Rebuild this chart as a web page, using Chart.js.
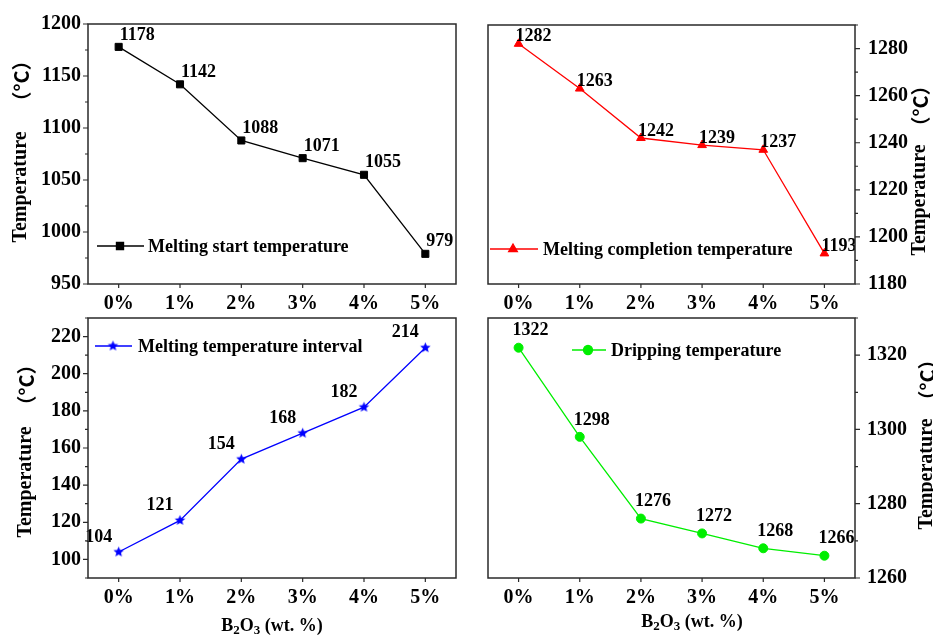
<!DOCTYPE html>
<html>
<head>
<meta charset="utf-8">
<script src="https://cdn.jsdelivr.net/npm/chart.js@4.4.1/dist/chart.umd.min.js"></script>
<style>
  html, body { margin: 0; padding: 0; background: #fff; }
  #wrap { position: relative; width: 933px; height: 637px; background: #fff; overflow: hidden; }
  #wrap canvas { position: absolute; left: 0; top: 0; width: 933px; height: 637px; }
</style>
</head>
<body>
<div id="wrap">
  <canvas id="c1" width="933" height="637"></canvas>
  <canvas id="c2" width="933" height="637"></canvas>
  <canvas id="c3" width="933" height="637"></canvas>
  <canvas id="c4" width="933" height="637"></canvas>
</div>
<script>
// B2O3 additions (wt. %)
const categories = ['0%', '1%', '2%', '3%', '4%', '5%'];

// temperatures in °C
const meltStart    = [1178, 1142, 1088, 1071, 1055, 979];
const meltComplete = [1282, 1263, 1242, 1239, 1237, 1193];
const meltInterval = [104, 121, 154, 168, 182, 214];
const dripping     = [1322, 1298, 1276, 1272, 1268, 1266];

// labelled y ticks of each panel
const ticksStart    = [950, 1000, 1050, 1100, 1150, 1200];
const ticksComplete = [1180, 1200, 1220, 1240, 1260, 1280];
const ticksInterval = [100, 120, 140, 160, 180, 200, 220];
const ticksDripping = [1260, 1280, 1300, 1320];

const SERIF = '"Liberation Serif", "Times New Roman", serif';
Chart.defaults.font.family = SERIF;
Chart.defaults.color = '#000';

function starImage(r, color) {
  const s = Math.ceil(r * 2 + 2);
  const c = document.createElement('canvas');
  c.width = c.height = s;
  const g = c.getContext('2d');
  g.fillStyle = color;
  g.beginPath();
  for (let k = 0; k < 10; k++) {
    const rad = k % 2 ? r * 0.45 : r;
    const ang = -Math.PI / 2 + k * Math.PI / 5;
    g.lineTo(s / 2 + rad * Math.cos(ang), s / 2 + rad * Math.sin(ang));
  }
  g.closePath();
  g.fill();
  return c;
}

// frame, tick marks, legend, axis titles and value labels
const panelDecor = {
  id: 'panelDecor',
  afterDatasetsDraw(chart, args, o) {
    const { ctx, chartArea: a } = chart;
    const meta = chart.getDatasetMeta(0);
    const ds = chart.data.datasets[0];
    ctx.save();
    if (o.clipLabels) {
      ctx.beginPath();
      ctx.rect(a.left, a.top, a.right - a.left, a.bottom - a.top);
      ctx.clip();
    }
    ctx.font = 'bold 18px ' + SERIF;
    ctx.fillStyle = '#000';
    ctx.textBaseline = 'middle';
    ctx.textAlign = o.labelAlign;
    meta.data.forEach((pt, i) => {
      ctx.fillText(String(ds.data[i]), pt.x + o.labelDx, pt.y + o.labelDy);
    });
    ctx.restore();
  },
  afterDraw(chart, args, o) {
    const { ctx, chartArea: a } = chart;
    const ys = chart.scales.y, xs = chart.scales.x;
    const ds = chart.data.datasets[0];
    ctx.save();

    // frame
    ctx.strokeStyle = '#2a2a2a';
    ctx.lineWidth = 1.5;
    ctx.strokeRect(a.left, a.top, a.right - a.left, a.bottom - a.top);

    // y tick marks (major + minor), outward
    const x0 = o.side === 'left' ? a.left : a.right;
    const dir = o.side === 'left' ? -1 : 1;
    const maj = o.majors;
    const step = maj[1] - maj[0];
    ctx.lineWidth = 1.2;
    ctx.beginPath();
    maj.forEach(v => {
      const y = ys.getPixelForValue(v);
      ctx.moveTo(x0, y); ctx.lineTo(x0 + dir * 5, y);
    });
    for (let v = maj[0] - step / 2; v <= ys.max + 1e-9; v += step) {
      if (v < ys.min - 1e-9) continue;
      const y = ys.getPixelForValue(v);
      ctx.moveTo(x0, y); ctx.lineTo(x0 + dir * 3, y);
    }
    // x tick marks
    categories.forEach((c, i) => {
      const x = xs.getPixelForValue(i);
      ctx.moveTo(x, a.bottom); ctx.lineTo(x, a.bottom + 4);
    });
    ctx.stroke();

    // legend
    const lg = o.legend;
    const ly = a.top + lg.y;
    ctx.strokeStyle = ds.borderColor;
    ctx.lineWidth = ds.borderWidth;
    ctx.beginPath();
    ctx.moveTo(a.left + lg.x0, ly);
    ctx.lineTo(a.left + lg.x1, ly);
    ctx.stroke();
    ctx.fillStyle = ds.pointBackgroundColor;
    ctx.strokeStyle = ds.borderColor;
    Chart.helpers.drawPoint(ctx, {
      pointStyle: ds.pointStyle, radius: ds.pointRadius, rotation: 0, borderWidth: 1
    }, a.left + lg.xm, ly);
    ctx.fillStyle = '#000';
    ctx.font = 'bold 18px ' + SERIF;
    ctx.textAlign = 'left';
    ctx.textBaseline = 'middle';
    ctx.fillText(ds.label, a.left + lg.xt, ly + 1);

    // y axis title, written bottom-to-top
    const yt = o.yTitle;
    ctx.save();
    ctx.translate(yt.x, 0);
    ctx.rotate(-Math.PI / 2);
    ctx.font = 'bold 20px ' + SERIF;
    ctx.textAlign = 'center';
    ctx.textBaseline = 'middle';
    ctx.fillText('Temperature', -yt.word, 0);
    ctx.font = 'bold 20px "Noto Sans CJK SC", ' + SERIF;
    ctx.fillText('（°C）', -yt.unit, 0);
    ctx.restore();

    // x axis title with subscripts
    if (o.xTitle) {
      const parts = [['B', 0], ['2', 1], ['O', 0], ['3', 1], [' (wt. %)', 0]];
      const fMain = 'bold 18px ' + SERIF, fSub = 'bold 13px ' + SERIF;
      let w = 0;
      parts.forEach(p => { ctx.font = p[1] ? fSub : fMain; w += ctx.measureText(p[0]).width; });
      let x = o.xTitle.x - w / 2;
      ctx.textAlign = 'left';
      ctx.textBaseline = 'middle';
      parts.forEach(p => {
        ctx.font = p[1] ? fSub : fMain;
        ctx.fillText(p[0], x, o.xTitle.y + (p[1] ? 5 : 0));
        x += ctx.measureText(p[0]).width;
      });
    }
    ctx.restore();
  }
};

function makePanel(id, cfg) {
  const tickFont = { size: 20, weight: 'bold', family: SERIF };
  return new Chart(document.getElementById(id), {
    type: 'line',
    data: {
      labels: categories,
      datasets: [{
        label: cfg.label,
        data: cfg.data,
        borderColor: cfg.color,
        backgroundColor: cfg.color,
        pointBackgroundColor: cfg.color,
        pointBorderColor: cfg.color,
        pointStyle: cfg.pointStyle,
        pointRadius: cfg.pointRadius,
        pointBorderWidth: 1,
        borderWidth: 1.3,
        tension: 0,
        fill: false
      }]
    },
    options: {
      responsive: false,
      animation: false,
      events: [],
      layout: { padding: cfg.padding },
      plugins: {
        legend: { display: false },
        tooltip: { enabled: false },
        panelDecor: cfg.decor
      },
      scales: {
        x: {
          type: 'category',
          offset: true,
          grid: { display: false, drawTicks: false },
          border: { display: false },
          ticks: { font: tickFont, color: '#000', padding: 8, maxRotation: 0, autoSkip: false },
          afterFit: s => { s.height = cfg.xHeight; }
        },
        y: {
          type: 'linear',
          position: cfg.decor.side,
          min: cfg.min,
          max: cfg.max,
          grid: { display: false, drawTicks: false },
          border: { display: false },
          ticks: { font: tickFont, color: '#000', padding: cfg.yPad, callback: v => String(v) },
          afterBuildTicks: s => { s.ticks = cfg.decor.majors.map(v => ({ value: v })); },
          afterFit: s => { s.width = cfg.yWidth; }
        }
      }
    },
    plugins: [panelDecor]
  });
}

// every panel is laid out on a full-size canvas; padding places its plot box
makePanel('c1', {
  label: 'Melting start temperature', data: meltStart, color: '#000000',
  pointStyle: 'rect', pointRadius: 5, min: 950, max: 1200,
  padding: { left: 0, right: 477, top: 24, bottom: 322 }, xHeight: 31, yWidth: 88, yPad: 7,
  decor: {
    side: 'left', majors: ticksStart,
    labelAlign: 'left', labelDx: 1, labelDy: -12, clipLabels: false,
    legend: { x0: 9, x1: 56, xm: 32, xt: 60, y: 222 },
    yTitle: { x: 21, word: 187, unit: 81 }
  }
});

makePanel('c2', {
  label: 'Melting completion temperature', data: meltComplete, color: '#ff0000',
  pointStyle: 'triangle', pointRadius: 5, min: 1180, max: 1290,
  padding: { left: 488, right: 0, top: 24, bottom: 322 }, xHeight: 31, yWidth: 78, yPad: 13,
  decor: {
    side: 'right', majors: ticksComplete,
    labelAlign: 'left', labelDx: -3, labelDy: -7, clipLabels: true,
    legend: { x0: 2, x1: 50, xm: 25, xt: 55, y: 224 },
    yTitle: { x: 920, word: 200, unit: 106 }
  }
});

makePanel('c3', {
  label: 'Melting temperature interval', data: meltInterval, color: '#0000ff',
  pointStyle: starImage(5.5, '#0000ff'), pointRadius: 5, min: 90, max: 230,
  padding: { left: 0, right: 477, top: 318, bottom: 0 }, xHeight: 59, yWidth: 88, yPad: 7,
  decor: {
    side: 'left', majors: ticksInterval,
    labelAlign: 'center', labelDx: -20, labelDy: -15, clipLabels: false,
    legend: { x0: 7, x1: 44, xm: 25, xt: 50, y: 28 },
    yTitle: { x: 26, word: 482, unit: 385 },
    xTitle: { x: 272, y: 626 }
  }
});

makePanel('c4', {
  label: 'Dripping temperature', data: dripping, color: '#00ee00',
  pointStyle: 'circle', pointRadius: 4.5, min: 1260, max: 1330,
  padding: { left: 488, right: 0, top: 318, bottom: 0 }, xHeight: 59, yWidth: 78, yPad: 12,
  decor: {
    side: 'right', majors: ticksDripping,
    labelAlign: 'center', labelDx: 12, labelDy: -17, clipLabels: false,
    legend: { x0: 84, x1: 118, xm: 100, xt: 123, y: 32 },
    yTitle: { x: 927, word: 474, unit: 380 },
    xTitle: { x: 692, y: 622 }
  }
});
</script>
</body>
</html>
